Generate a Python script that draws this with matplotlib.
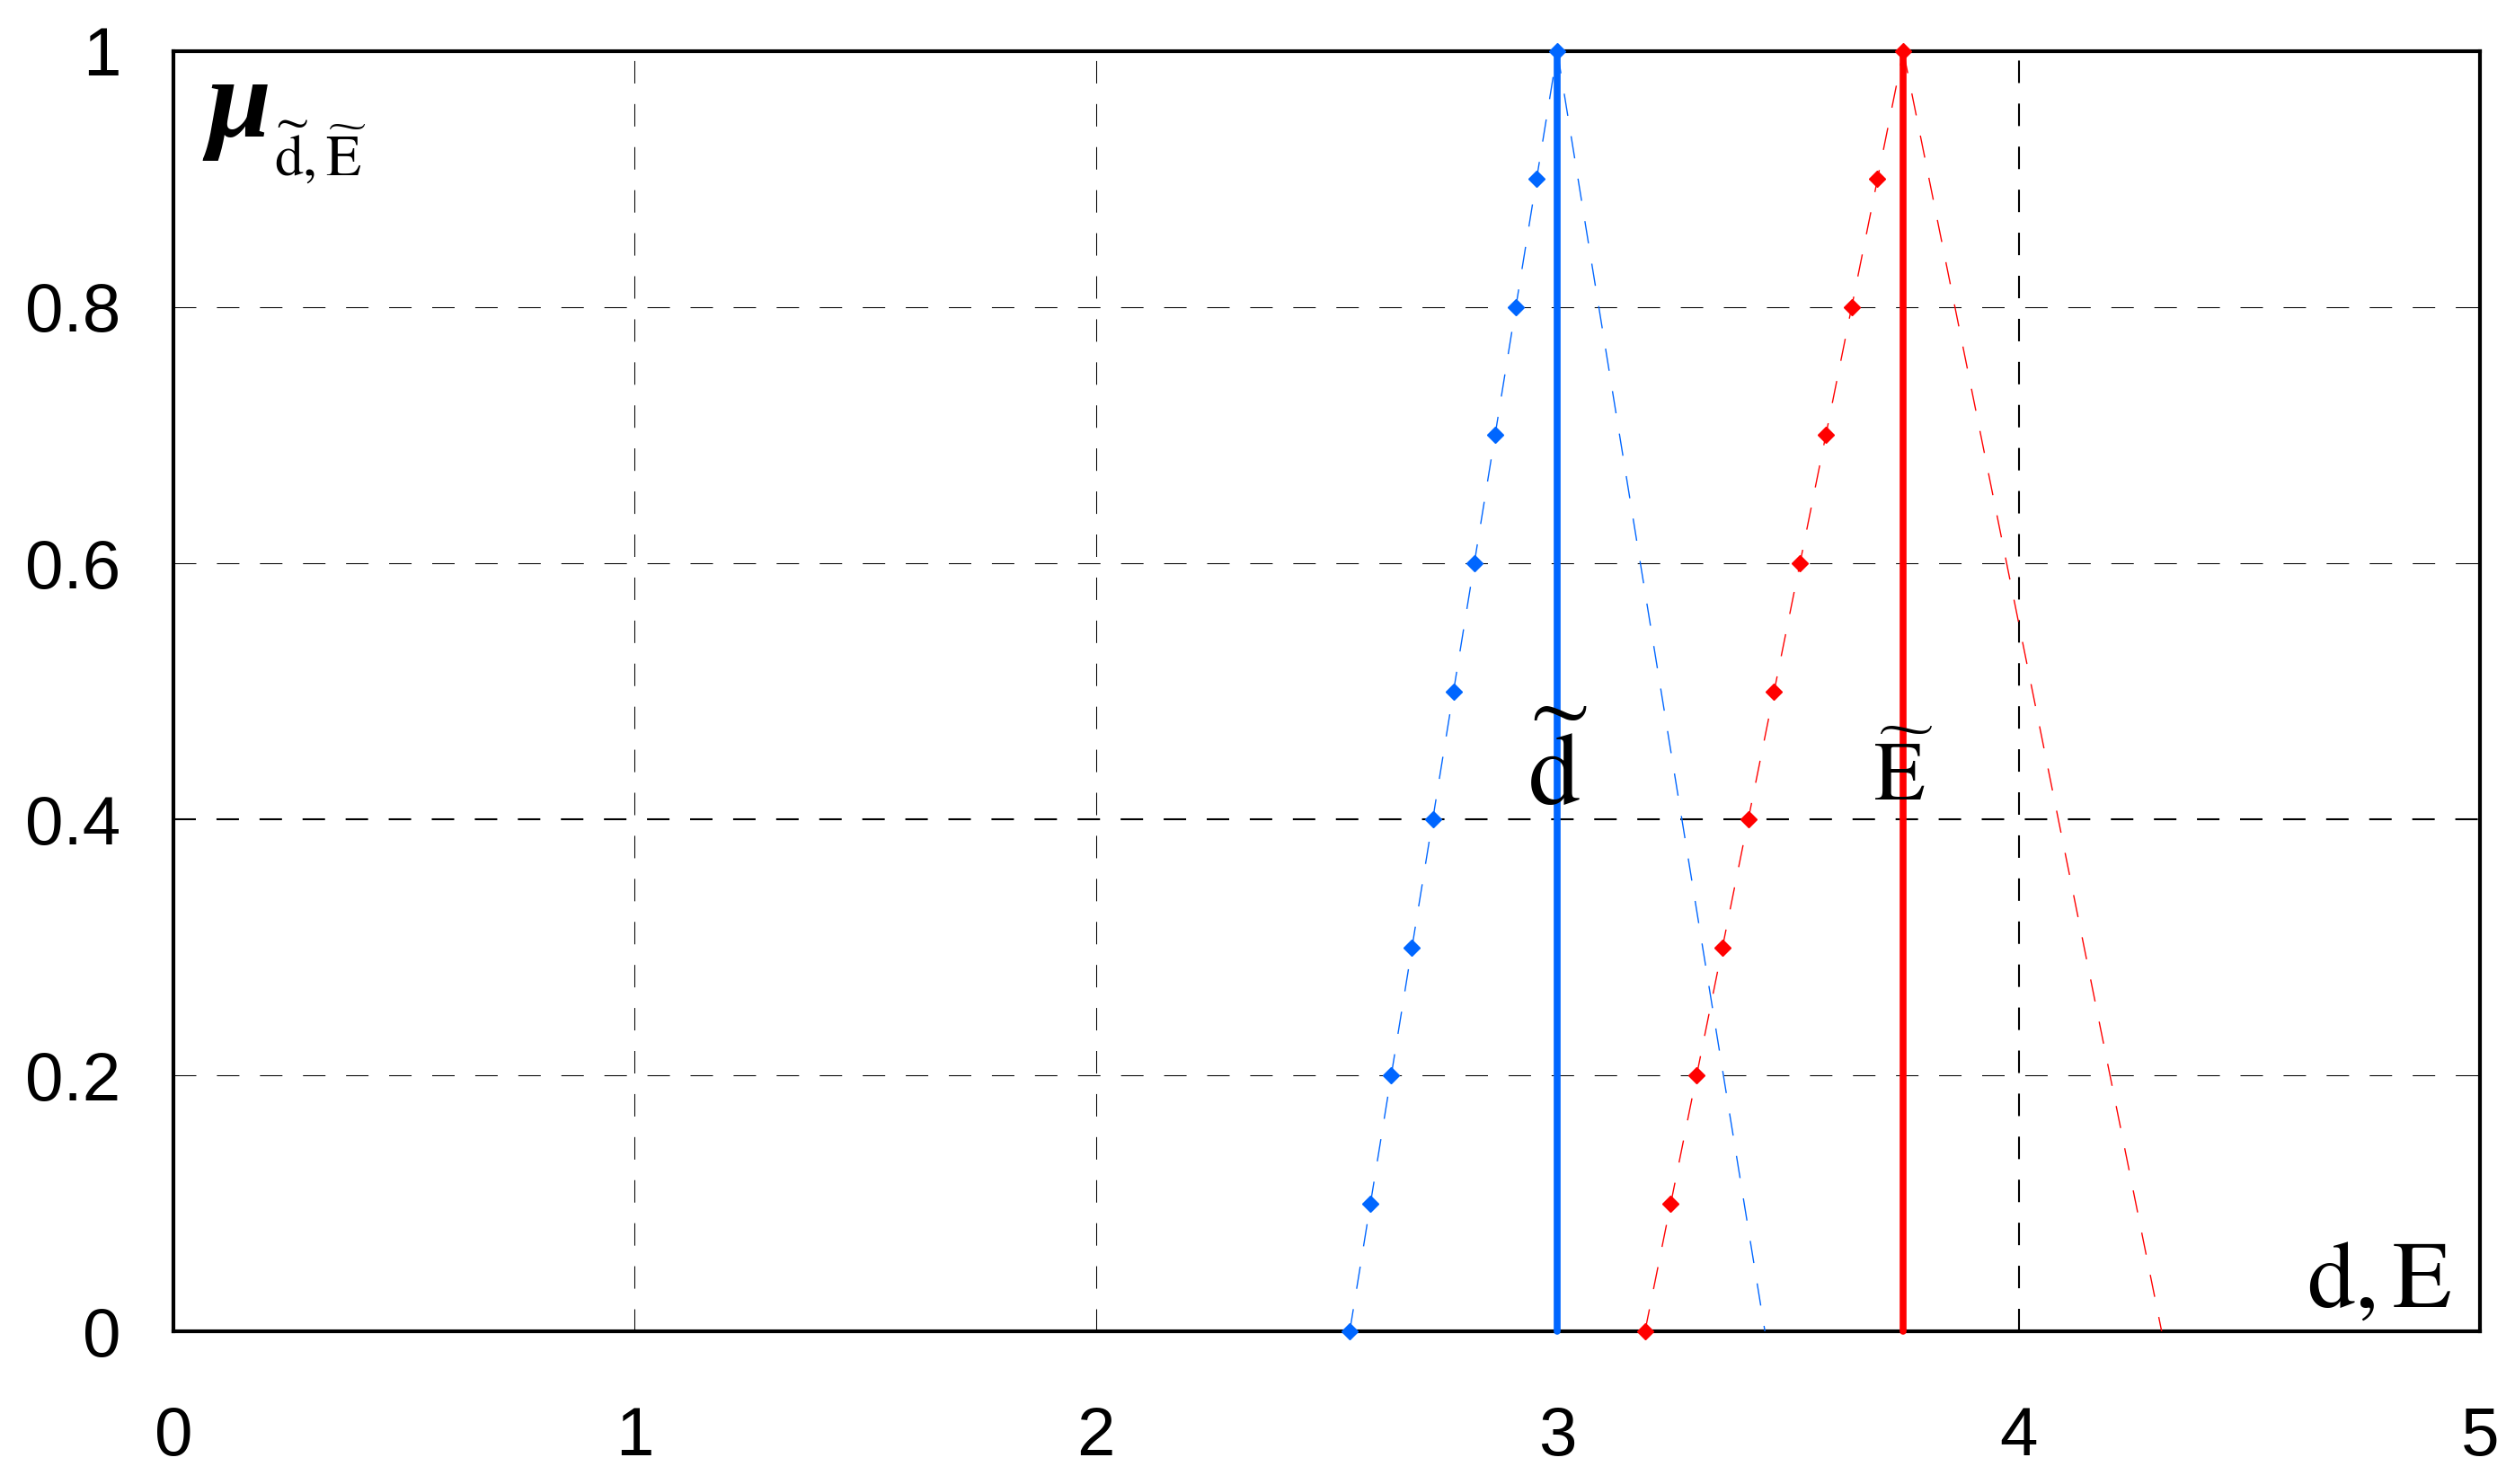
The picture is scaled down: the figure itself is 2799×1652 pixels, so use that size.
import matplotlib.pyplot as plt

plt.rcParams['mathtext.fontset'] = 'stix'
plt.rcParams['lines.scale_dashes'] = False

# membership levels and the left-side points
mu_levels = [0.0, 0.1, 0.2, 0.3, 0.4, 0.5, 0.6, 0.7, 0.8, 0.9, 1.0]
d_left = [2.55, 2.595, 2.64, 2.685, 2.73, 2.775, 2.82, 2.865, 2.91, 2.955, 3.0]
e_left = [3.19, 3.246, 3.302, 3.358, 3.414, 3.47, 3.526, 3.582, 3.638, 3.694, 3.75]
d_peak, d_right = 3.0, 3.45
e_peak, e_right = 3.75, 4.31

x_ticks = [0, 1, 2, 3, 4, 5]
x_labels = ['0', '1', '2', '3', '4', '5']
y_ticks = [0, 0.2, 0.4, 0.6, 0.8, 1.0]
y_labels = ['0', '0.2', '0.4', '0.6', '0.8', '1']

blue = '#0066ff'
red = '#ff0000'
dash = (18, 16.5)

fig = plt.figure(figsize=(27.99, 16.52), dpi=100)
ax = fig.add_axes([0.06895, 0.1029, 0.91711, 0.8626])

# dashed grid, two of the lines are drawn heavier in the original
for x in x_ticks[1:-1]:
    ax.axvline(x, color='k', lw=1.5 if x == 4 else 0.75, dashes=dash, zorder=1)
for y in y_ticks[1:-1]:
    ax.axhline(y, color='k', lw=1.5 if y == 0.4 else 0.75, dashes=dash, zorder=1)

# fuzzy d
ax.plot(d_left, mu_levels, color=blue, lw=1, dashes=dash, marker='D', ms=9,
        clip_on=False, zorder=3)
ax.plot([d_peak, d_right], [1, 0], color=blue, lw=1, dashes=dash, zorder=3)
ax.plot([d_peak, d_peak], [0, 1], color=blue, lw=5.5, solid_capstyle='round',
        clip_on=False, zorder=4)

# fuzzy E
ax.plot(e_left, mu_levels, color=red, lw=1, dashes=dash, marker='D', ms=9,
        clip_on=False, zorder=3)
ax.plot([e_peak, e_right], [1, 0], color=red, lw=1, dashes=dash, zorder=3)
ax.plot([e_peak, e_peak], [0, 1], color=red, lw=5.5, solid_capstyle='round',
        clip_on=False, zorder=4)

ax.set_xlim(0, 5)
ax.set_ylim(0, 1)
ax.set_xticks(x_ticks)
ax.set_xticklabels(x_labels)
ax.set_yticks(y_ticks)
ax.set_yticklabels(y_labels)
ax.tick_params(axis='both', length=0, labelsize=55)
ax.tick_params(axis='x', pad=60)
ax.tick_params(axis='y', pad=42)
for lab in ax.get_xticklabels() + ax.get_yticklabels():
    lab.set_fontfamily('Liberation Sans')
for sp in ax.spines.values():
    sp.set_linewidth(3)

# labels
ax.text(0.072, 0.933, '\u03bc', fontfamily='Liberation Serif', fontstyle='italic',
        fontweight='bold', fontsize=92, ha='left', va='baseline')
ax.text(0.218, 0.903, r'$\widetilde{\mathrm{d}},\widetilde{\mathrm{E}}$', fontsize=46,
        ha='left', va='baseline')
ax.text(3.0, 0.411, r'$\widetilde{\mathrm{d}}$', fontsize=83, ha='center', va='baseline', zorder=5)
ax.text(3.75, 0.415, r'$\widetilde{\mathrm{E}}$', fontsize=67, ha='center', va='baseline', zorder=5)
ax.text(4.938, 0.019, r'$\mathrm{d},\mathrm{E}$', fontsize=77, ha='right', va='baseline')

fig.savefig('out.png', dpi=100)
